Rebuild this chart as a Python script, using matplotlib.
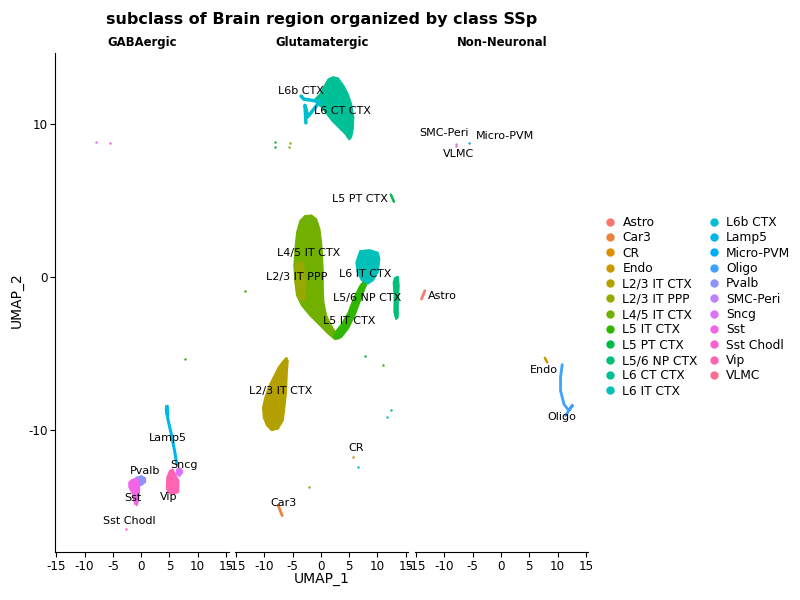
import numpy as np
import matplotlib
matplotlib.use("Agg")
import matplotlib.pyplot as plt
from matplotlib.lines import Line2D

plt.rcParams["axes.unicode_minus"] = False

# subclasses in legend order
subclasses = ["Astro", "Car3", "CR", "Endo", "L2/3 IT CTX", "L2/3 IT PPP", "L4/5 IT CTX",
              "L5 IT CTX", "L5 PT CTX", "L5/6 NP CTX", "L6 CT CTX", "L6 IT CTX", "L6b CTX",
              "Lamp5", "Micro-PVM", "Oligo", "Pvalb", "SMC-Peri", "Sncg", "Sst", "Sst Chodl",
              "Vip", "VLMC"]
classes = ["GABAergic", "Glutamatergic", "Non-Neuronal"]

# cluster outlines (UMAP_1, UMAP_2)
l6_ct_ctx = [(1.29, 12.92), (2.17, 13.07), (3.06, 12.99), (4.06, 12.48), (4.82, 11.94),
             (5.42, 11.29), (5.83, 10.41), (5.71, 9.65), (5.42, 9.10), (5.00, 8.93),
             (4.24, 9.33), (3.06, 9.76), (1.89, 10.20), (1.01, 10.63), (0.12, 11.07),
             (-0.76, 11.29), (-1.06, 11.61), (-0.18, 11.94), (0.41, 12.37)]
l45_it_ctx = [(-2.83, 3.99), (-1.64, 4.03), (-0.76, 3.77), (-0.18, 3.12), (0.12, 2.24),
              (0.30, 1.37), (0.41, 0.28), (0.41, -0.80), (0.53, -1.68), (1.01, -2.55),
              (1.89, -3.20), (2.77, -3.75), (3.06, -4.07), (2.47, -4.12), (1.29, -3.75),
              (-0.18, -3.20), (-1.94, -2.55), (-3.41, -1.90), (-4.29, -1.24), (-4.59, -0.37),
              (-4.77, 0.72), (-4.59, 1.81), (-4.29, 2.90), (-3.71, 3.66)]
l23_it_ppp = [(-4.5, 0.9), (-3.2, 1.0), (-2.6, -0.4), (-2.9, -1.6), (-3.9, -1.5),
              (-4.5, -0.6)]
l5_it_ctx = [(3.06, -4.07), (3.65, -3.97), (4.82, -3.42), (6.01, -2.55), (6.89, -1.68),
             (7.77, -0.80), (8.66, -0.05), (8.07, -0.05), (6.89, -0.59), (5.71, -1.46),
             (4.82, -2.33), (3.65, -3.09), (2.47, -3.64), (2.17, -3.97)]
l6_it_ctx = [(6.89, 1.70), (8.66, 1.76), (10.12, 1.59), (10.42, 1.16), (10.12, 0.28),
             (9.24, -0.26), (8.36, -0.48), (7.19, -0.26), (6.41, 0.28), (6.18, 0.93)]
l56_np_ctx = [(13.07, -0.05), (13.66, 0.02), (13.83, -0.59), (13.66, -1.68), (13.66, -2.66),
              (13.25, -2.81), (12.90, -2.33), (12.95, -1.24), (12.77, -0.37)]
l23_it_ctx = [(-6.06, -5.27), (-5.78, -5.49), (-5.95, -6.36), (-6.06, -7.45), (-6.36, -8.54),
              (-6.66, -9.41), (-7.54, -9.96), (-8.71, -10.07), (-9.59, -9.74), (-10.19, -9.20),
              (-10.30, -8.54), (-9.89, -7.89), (-9.31, -7.24), (-8.43, -6.58), (-7.54, -5.93),
              (-6.66, -5.49)]
pvalb = [(-0.87, -13.12), (0.02, -13.01), (0.78, -13.16), (0.78, -13.44), (0.02, -13.66),
         (-0.87, -13.66), (-1.29, -13.38)]
sst = [(-1.75, -13.29), (-0.87, -13.16), (-0.28, -13.44), (-0.28, -13.99), (-0.46, -14.64),
       (-0.69, -14.97), (-1.17, -14.86), (-1.57, -14.20), (-2.17, -13.77), (-2.17, -13.44)]
vip = [(5.02, -12.68), (5.60, -12.57), (6.20, -13.01), (6.66, -13.33), (6.66, -14.10),
       (5.90, -14.20), (4.72, -14.16), (4.43, -13.77), (4.54, -13.12)]
sncg = [(6.31, -12.57), (7.08, -12.51), (7.37, -12.79), (6.78, -13.07), (6.20, -12.90)]
lamp5_top = [(4.3, -8.45), (4.75, -8.4), (4.9, -8.9), (4.8, -9.4), (4.4, -9.0)]

# thin strands drawn as lines
l6b_ctx = [(-3.5, 11.8), (-3.0, 11.6), (-0.2, 11.45), (-2.3, 10.45), (-2.8, 11.2),
           (-2.65, 10.05)]
lamp5 = [(4.43, -8.65), (4.72, -9.30), (5.32, -10.28), (5.90, -11.37), (6.31, -12.24)]
oligo = [(10.81, -5.75), (10.51, -6.58), (10.51, -7.45), (11.10, -8.32), (11.98, -8.76),
         (12.58, -8.43), (11.98, -8.76), (11.40, -9.08)]
car3 = [(-7.54, -14.97), (-6.84, -15.62)]
astro = [(-14.05, -1.46), (-13.46, -0.92)]
endo = [(7.74, -5.31), (8.16, -5.60)]
l5_pt_ctx = [(12.37, 5.36), (12.9, 4.90)]

# single stray cells (class, subclass, x, y)
strays = [("GABAergic", "Sncg", -8.0, 8.78), ("GABAergic", "Sst", -5.58, 8.71),
          ("GABAergic", "L5 IT CTX", 7.84, -5.36), ("GABAergic", "Sst Chodl", -2.76, -16.49),
          ("Glutamatergic", "L5 PT CTX", -8.13, 8.78), ("Glutamatergic", "L5 PT CTX", -8.13, 8.5),
          ("Glutamatergic", "L2/3 IT PPP", -5.48, 8.76), ("Glutamatergic", "L2/3 IT PPP", -5.55, 8.45),
          ("Glutamatergic", "L5 IT CTX", -13.43, -0.92), ("Glutamatergic", "CR", 5.71, -11.76),
          ("Glutamatergic", "L6 IT CTX", 6.48, -12.42), ("Glutamatergic", "L5 PT CTX", 7.77, -5.16),
          ("Glutamatergic", "L5 IT CTX", 10.9, -5.77), ("Glutamatergic", "L6 CT CTX", 12.37, -8.69),
          ("Glutamatergic", "L6 IT CTX", 11.6, -9.15), ("Glutamatergic", "L4/5 IT CTX", -2.06, -13.77),
          ("Non-Neuronal", "SMC-Peri", -8.04, 8.67), ("Non-Neuronal", "VLMC", -7.95, 8.55),
          ("Non-Neuronal", "Micro-PVM", -5.69, 8.76)]

# label positions per class
labels = {
    "GABAergic": [("Lamp5", 4.68, -10.52), ("Pvalb", 0.78, -12.68), ("Sncg", 7.49, -12.29),
                  ("Sst", -1.52, -14.44), ("Vip", 4.84, -14.38), ("Sst Chodl", -2.05, -15.95)],
    "Glutamatergic": [("L6b CTX", -3.53, 12.16), ("L6 CT CTX", 3.89, 10.85), ("L5 PT CTX", 6.89, 5.10),
                      ("L4/5 IT CTX", -2.12, 1.57), ("L2/3 IT PPP", -4.24, 0.0), ("L6 IT CTX", 7.77, 0.20),
                      ("L5/6 NP CTX", 8.13, -1.37), ("L5 IT CTX", 4.95, -2.88),
                      ("L2/3 IT CTX", -7.07, -7.45), ("CR", 6.18, -11.18), ("Car3", -6.54, -14.77)],
    "Non-Neuronal": [("SMC-Peri", -10.16, 9.41), ("Micro-PVM", 0.62, 9.22), ("VLMC", -7.51, 8.04),
                     ("Astro", -10.34, -1.24), ("Endo", 7.51, -6.08), ("Oligo", 10.69, -9.15)],
}

blobs = [("Glutamatergic", "L6 CT CTX", l6_ct_ctx), ("Glutamatergic", "L4/5 IT CTX", l45_it_ctx),
         ("Glutamatergic", "L2/3 IT PPP", l23_it_ppp), ("Glutamatergic", "L5 IT CTX", l5_it_ctx),
         ("Glutamatergic", "L6 IT CTX", l6_it_ctx), ("Glutamatergic", "L5/6 NP CTX", l56_np_ctx),
         ("Glutamatergic", "L2/3 IT CTX", l23_it_ctx),
         ("GABAergic", "Pvalb", pvalb), ("GABAergic", "Sst", sst), ("GABAergic", "Vip", vip),
         ("GABAergic", "Sncg", sncg), ("GABAergic", "Lamp5", lamp5_top)]
strands = [("Glutamatergic", "L6b CTX", l6b_ctx, 2.5), ("GABAergic", "Lamp5", lamp5, 2.2),
           ("Non-Neuronal", "Oligo", oligo, 2.0), ("Glutamatergic", "Car3", car3, 2.0),
           ("Non-Neuronal", "Astro", astro, 2.0), ("Non-Neuronal", "Endo", endo, 1.8),
           ("Glutamatergic", "L5 PT CTX", l5_pt_ctx, 1.8)]


def hue_pal(n, l=65, c=100):
    # ggplot2 default hue palette (polar LUV -> sRGB)
    hues = np.linspace(15, 375, n + 1)[:-1]
    xn, yn, zn = 95.047, 100.0, 108.883
    un = 4 * xn / (xn + 15 * yn + 3 * zn)
    vn = 9 * yn / (xn + 15 * yn + 3 * zn)
    m = np.array([[3.240479, -1.537150, -0.498535],
                  [-0.969256, 1.875992, 0.041556],
                  [0.055648, -0.204043, 1.057311]])
    out = []
    for h in hues:
        u = c * np.cos(np.radians(h))
        v = c * np.sin(np.radians(h))
        y = yn * ((l + 16) / 116) ** 3
        up = u / (13 * l) + un
        vp = v / (13 * l) + vn
        x = 9 * y * up / (4 * vp)
        z = -x / 3 - 5 * y + 3 * y / vp
        rgb = m @ (np.array([x, y, z]) / 100)
        rgb = np.where(rgb > 0.0031308, 1.055 * np.abs(rgb) ** (1 / 2.4) - 0.055, 12.92 * rgb)
        out.append(tuple(np.clip(rgb, 0, 1)))
    return out


colors = dict(zip(subclasses, hue_pal(len(subclasses))))

fig = plt.figure(figsize=(8, 6), dpi=100)
lefts = [0.0689, 0.2936, 0.5188]
axes = {}
for i, cls in enumerate(classes):
    ax = fig.add_axes([lefts[i], 0.08, 0.2168, 0.8322])
    ax.set_xlim(-15.2, 15.45)
    ax.set_ylim(-18.0, 14.64)
    ax.set_xticks([-15, -10, -5, 0, 5, 10, 15])
    ax.set_yticks([-10, 0, 10])
    for s in ["top", "right"]:
        ax.spines[s].set_visible(False)
    ax.tick_params(labelsize=8.6, length=3.5, width=0.8, pad=2, colors="black")
    if i > 0:
        ax.spines["left"].set_visible(False)
        ax.tick_params(axis="y", left=False, labelleft=False)
    ax.set_title(cls, fontsize=8.4, fontweight="bold", pad=5)
    axes[cls] = ax

for cls, name, pts in blobs:
    xy = np.array(pts)
    axes[cls].fill(xy[:, 0], xy[:, 1], color=colors[name], lw=0.8, zorder=2)
for cls, name, pts, lw in strands:
    xy = np.array(pts)
    axes[cls].plot(xy[:, 0], xy[:, 1], color=colors[name], lw=lw,
                   solid_capstyle="round", solid_joinstyle="round", zorder=2)
for cls, name, x, y in strays:
    axes[cls].scatter([x], [y], s=3, color=colors[name], lw=0, zorder=2)

for cls in classes:
    for name, x, y in labels[cls]:
        axes[cls].text(x, y, name, fontsize=8, ha="center", va="center", zorder=3)

fig.text(0.4025, 0.968, "subclass of Brain region organized by class SSp",
         fontsize=11.5, fontweight="bold", ha="center", va="center")
fig.text(0.4025, 0.035, "UMAP_1", fontsize=10, ha="center", va="center")
fig.text(0.021, 0.5, "UMAP_2", fontsize=10, ha="center", va="center", rotation=90)

handles = [Line2D([], [], ls="", marker="o", ms=5, color=colors[s]) for s in subclasses]
fig.legend(handles, subclasses, ncol=2, loc="upper left", bbox_to_anchor=(0.746, 0.65),
           frameon=False, fontsize=8.8, handletextpad=0.4, columnspacing=0.7,
           labelspacing=0.19, handlelength=1.2, borderpad=0)

fig.savefig("out.png", dpi=100)
